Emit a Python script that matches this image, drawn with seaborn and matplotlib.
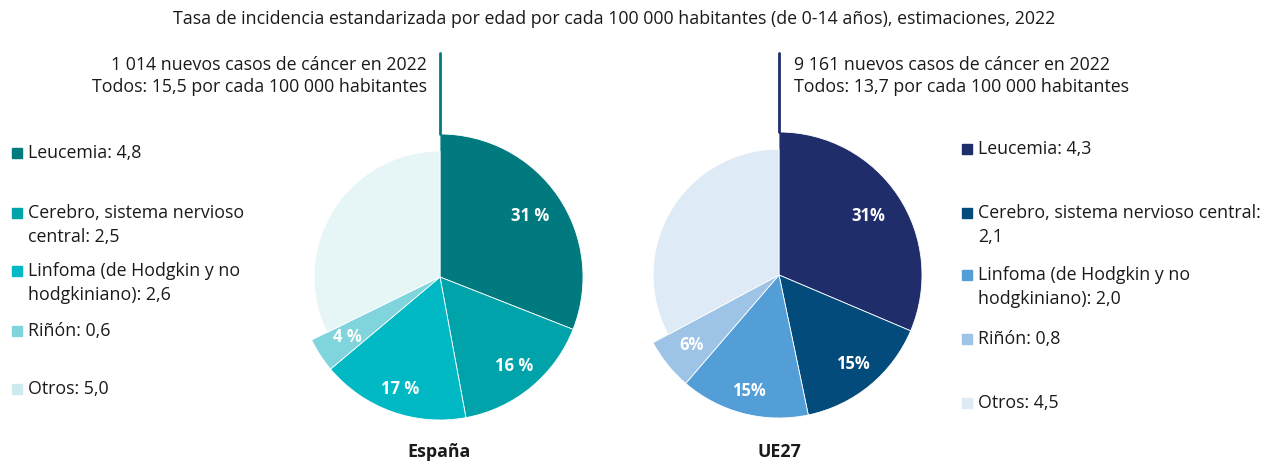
import numpy as np
import matplotlib
matplotlib.use("Agg")
import matplotlib.pyplot as plt
import matplotlib.patches as mpatches
import seaborn as sns

# data
categories = ["Leucemia", "Cerebro, sistema nervioso central",
              "Linfoma (de Hodgkin y no hodgkiniano)", "Riñón", "Otros"]
espana_rates = [4.8, 2.5, 2.6, 0.6, 5.0]
ue27_rates = [4.3, 2.1, 2.0, 0.8, 4.5]
espana_pct = ["31 %", "16 %", "17 %", "4 %", ""]
ue27_pct = ["31%", "15%", "15%", "6%", ""]
espana_legend = [["Leucemia: 4,8"], ["Cerebro, sistema nervioso", "central: 2,5"],
                 ["Linfoma (de Hodgkin y no", "hodgkiniano): 2,6"], ["Riñón: 0,6"], ["Otros: 5,0"]]
ue27_legend = [["Leucemia: 4,3"], ["Cerebro, sistema nervioso central:", "2,1"],
               ["Linfoma (de Hodgkin y no", "hodgkiniano): 2,0"], ["Riñón: 0,8"], ["Otros: 4,5"]]
espana_note = ["1 014 nuevos casos de cáncer en 2022", "Todos: 15,5 por cada 100 000 habitantes"]
ue27_note = ["9 161 nuevos casos de cáncer en 2022", "Todos: 13,7 por cada 100 000 habitantes"]
title = "Tasa de incidencia estandarizada por edad por cada 100 000 habitantes (de 0-14 años), estimaciones, 2022"

sns.set_theme(style="white")
plt.rcParams['font.family'] = ['Open Sans', 'DejaVu Sans']

pal_es = sns.color_palette(["#007A7E", "#00A3AA", "#00B9C4", "#80D4DB", "#E6F5F6"])
pal_eu = sns.color_palette(["#1F2D6B", "#034B7B", "#539ED7", "#9DC3E6", "#DEEAF6"])
leg_es = ["#007A7E", "#00A3AA", "#00B9C4", "#80D4DB", "#CDEBEE"]
leg_eu = ["#1F2D6B", "#034B7B", "#539ED7", "#9DC3E6", "#DEEAF6"]

TXT = "#1a1a1a"
FS = 12.8
W, H = 1265, 461
fig = plt.figure(figsize=(W / 100, H / 100), dpi=100)
fig.patch.set_facecolor("white")


def fx(x):
    return x / W


def fy(y):
    return 1 - y / H


def draw_pie(cx, cy, R, values, colors, pcts, dists, line_col):
    ax = fig.add_axes([fx(cx - R), fy(cy + R), 2 * R / W, 2 * R / H])
    wedges, _ = ax.pie(values, colors=colors, startangle=90, counterclock=False,
                       radius=1, wedgeprops=dict(linewidth=0.6, edgecolor="white"))
    wedges[-1].set_radius(0.88)
    for w, txt, d in zip(wedges, pcts, dists):
        ang = np.deg2rad((w.theta1 + w.theta2) / 2)
        ax.text(d * np.cos(ang), d * np.sin(ang), txt, ha="center", va="center",
                color="white", fontsize=12, fontweight="bold")
    ax.set_xlim(-1, 1)
    ax.set_ylim(-1, 1)
    ax.set_aspect("auto")
    ax.axis("off")
    fig.add_artist(plt.Line2D([fx(cx), fx(cx)], [fy(cy - R), fy(53)],
                              color=line_col, lw=2, transform=fig.transFigure))


draw_pie(440, 277, 143, espana_rates, pal_es, espana_pct, [0.76, 0.81, 0.83, 0.77, 0.5], "#007A7E")
draw_pie(779, 275, 143, ue27_rates, pal_eu, ue27_pct, [0.75, 0.81, 0.84, 0.78, 0.5], "#1F2D6B")

fig.text(fx(614), fy(19), title, ha="center", va="center", fontsize=FS, color=TXT)
for i, line in enumerate(espana_note):
    fig.text(fx(427), fy(65 + 22 * i), line, ha="right", va="center", fontsize=FS, color=TXT)
for i, line in enumerate(ue27_note):
    fig.text(fx(794), fy(65 + 22 * i), line, ha="left", va="center", fontsize=FS, color=TXT)
fig.text(fx(439), fy(452), "España", ha="center", va="center", fontsize=FS,
         fontweight="bold", color=TXT)
fig.text(fx(779), fy(452), "UE27", ha="center", va="center", fontsize=FS,
         fontweight="bold", color=TXT)


def draw_legend(x_sq, x_txt, ys, labels, colors):
    for y, lines, c in zip(ys, labels, colors):
        fig.add_artist(mpatches.Rectangle((fx(x_sq), fy(y + 5)), 10 / W, 10 / H,
                                          transform=fig.transFigure, color=c))
        for j, line in enumerate(lines):
            fig.text(fx(x_txt), fy(y + 24 * j), line, ha="left", va="center",
                     fontsize=FS, color=TXT)


draw_legend(12, 28, [153, 213, 271, 331, 389], espana_legend, leg_es)
draw_legend(962, 978, [149, 213, 275, 339, 403], ue27_legend, leg_eu)

fig.savefig("out.png", dpi=100, facecolor="white")
